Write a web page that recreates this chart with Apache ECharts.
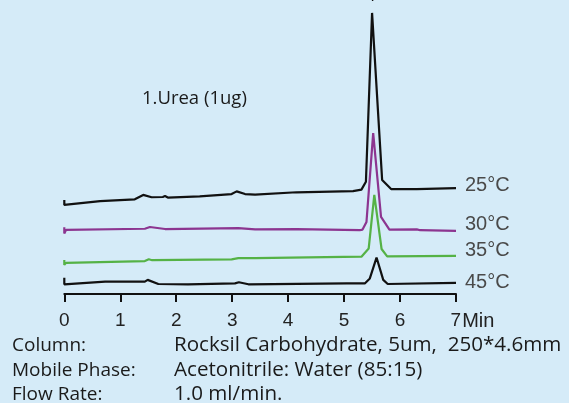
<!DOCTYPE html>
<html>
<head>
<meta charset="utf-8">
<script src="https://cdn.jsdelivr.net/npm/echarts@6/dist/echarts.min.js"></script>
<style>
  html, body { margin: 0; padding: 0; background: #d5ebf8; }
  #chart { width: 569px; height: 403px; }
</style>
</head>
<body>
<div id="chart"></div>
<script>
// Chromatogram traces: retention time (min) and detector response (arb. units, offset per temperature)
const traceNames = ['25°C', '30°C', '35°C', '45°C'];

const time25 = [0, 0, 0.03, 0.64, 1.26, 1.41, 1.56, 1.76, 1.80, 1.85, 2.42, 2.99, 3.08, 3.23, 3.41, 4.15, 5.16, 5.31, 5.39, 5.50, 5.68, 5.84, 6.30, 7.0];
const signal25 = [32.0, 30.3, 30.8, 31.6, 32.2, 33.7, 32.9, 33.0, 33.3, 32.8, 33.2, 34.0, 34.9, 34.0, 33.8, 34.6, 35.0, 35.5, 38.2, 95.6, 38.8, 35.7, 35.7, 36.0];

const time30 = [0, 0, 0.03, 1.44, 1.53, 1.80, 3.11, 3.41, 4.15, 5.28, 5.33, 5.40, 5.52, 5.66, 5.81, 6.30, 6.36, 7.0];
const signal30 = [22.7, 20.6, 21.8, 22.2, 22.8, 22.1, 22.4, 22.0, 22.1, 21.7, 21.9, 24.5, 54.7, 26.2, 21.9, 22.0, 21.7, 21.5];

const time35 = [0, 0, 0.03, 1.44, 1.51, 1.57, 2.99, 3.11, 3.41, 5.31, 5.44, 5.54, 5.67, 5.77, 7.0];
const signal35 = [11.6, 9.9, 10.6, 11.2, 11.8, 11.5, 11.8, 12.2, 12.2, 12.7, 15.5, 33.7, 15.3, 12.8, 13.0];

const time45 = [0, 0, 0.03, 0.73, 1.44, 1.49, 1.68, 2.21, 3.05, 3.12, 3.29, 5.05, 5.37, 5.46, 5.58, 5.70, 5.78, 7.0];
const signal45 = [5.5, 3.3, 3.3, 4.2, 4.2, 4.8, 3.4, 3.3, 3.6, 4.0, 3.3, 3.6, 3.6, 5.3, 12.4, 4.8, 3.4, 3.8];

const peakNames = ['1'];
const compoundLabel = '1.Urea (1ug)';

const axisTickLabels = ['0', '1', '2', '3', '4', '5', '6', '7'];
const axisUnit = 'Min';

const conditionKeys = ['Column:', 'Mobile Phase:', 'Flow Rate:'];
const conditionValues = ['Rocksil Carbohydrate, 5um,  250*4.6mm', 'Acetonitrile: Water (85:15)', '1.0 ml/min.'];

const traces = [
  { t: time25, s: signal25 },
  { t: time30, s: signal30 },
  { t: time35, s: signal35 },
  { t: time45, s: signal45 }
];

// styling per trace
const lineColors = ['#111111', '#8c3590', '#55b246', '#111111'];
const endLabelOffsets = [[0, -3], [0, -6], [0, -5], [0, 0]];

const textFont = "'Open Sans', 'Noto Sans', sans-serif";
const axisFont = "'Liberation Sans', Arial, sans-serif";
const tempFont = "'Liberation Sans Narrow', 'Liberation Sans', Arial, sans-serif";

const chart = echarts.init(document.getElementById('chart'));

const series = traces.map((tr, i) => {
  const s = {
    name: traceNames[i],
    type: 'line',
    symbol: 'none',
    showSymbol: false,
    smooth: false,
    clip: false,
    data: tr.t.map((t, k) => [t, tr.s[k]]),
    lineStyle: { color: lineColors[i], width: 2.2 },
    itemStyle: { color: lineColors[i] },
    endLabel: {
      show: true,
      formatter: '{a}',
      distance: 9,
      offset: endLabelOffsets[i],
      color: '#4a4a4a',
      fontSize: 20,
      fontFamily: tempFont
    },
    emphasis: { disabled: true }
  };
  if (i === 0) {
    s.markPoint = {
      symbol: 'circle',
      symbolSize: 1,
      itemStyle: { color: 'rgba(0,0,0,0)' },
      label: {
        show: true,
        formatter: peakNames[0],
        position: 'top',
        distance: 8,
        color: '#111',
        fontSize: 18,
        fontFamily: textFont
      },
      data: [{ type: 'max', name: peakNames[0] }]
    };
  }
  return s;
});

const graphics = [
  {
    type: 'text',
    style: {
      x: 142, y: 99, verticalAlign: 'middle',
      text: compoundLabel, fill: '#1a1a1a', font: '18.5px ' + textFont
    }
  }
];
const rowY = [345.5, 370.5, 394.5];
conditionKeys.forEach((k, i) => {
  graphics.push({
    type: 'text',
    style: {
      x: 12, y: rowY[i], verticalAlign: 'middle',
      text: k, fill: '#1a1a1a', font: '19px ' + textFont
    }
  });
  graphics.push({
    type: 'text',
    style: {
      x: 174, y: rowY[i], verticalAlign: 'middle',
      text: conditionValues[i], fill: '#1a1a1a', font: '20.6px ' + textFont
    }
  });
});

chart.setOption({
  backgroundColor: '#d5ebf8',
  animation: false,
  grid: { left: 64.3, right: 113, top: 0, bottom: 109, containLabel: false },
  xAxis: {
    type: 'value',
    min: 0,
    max: 7,
    interval: 1,
    axisLine: { show: true, lineStyle: { color: '#111', width: 2 } },
    axisTick: { show: true, inside: false, length: 8, lineStyle: { color: '#111', width: 2 } },
    axisLabel: {
      margin: 17,
      color: '#222',
      fontSize: 19,
      fontFamily: axisFont,
      formatter: v => {
        const i = Math.round(v);
        const lab = axisTickLabels[i];
        // the last tick carries the time unit; a spacer keeps the digit centred on its tick
        return i === axisTickLabels.length - 1 ? '{sp|}{d|' + lab + '}{u|' + axisUnit + '}' : lab;
      },
      rich: {
        sp: { width: 33 },
        d: { color: '#222', fontSize: 19, fontFamily: axisFont },
        u: { color: '#222', fontSize: 20, fontFamily: axisFont, padding: [0, 0, 0, 1] }
      }
    },
    splitLine: { show: false }
  },
  yAxis: {
    type: 'value',
    show: false,
    min: 0,
    max: 100
  },
  series: series,
  graphic: graphics
});
</script>
</body>
</html>
